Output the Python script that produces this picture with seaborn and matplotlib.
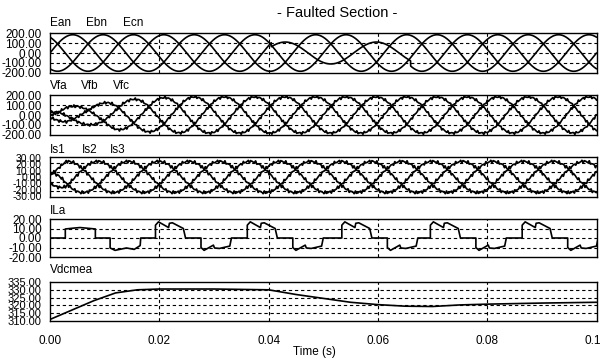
import numpy as np
import pandas as pd
import matplotlib
matplotlib.use("Agg")
import matplotlib.pyplot as plt
import seaborn as sns
from matplotlib import font_manager

sns.set_theme(style="white")
_avail = {f.name for f in font_manager.fontManager.ttflist}
_fam = "Liberation Sans Narrow" if "Liberation Sans Narrow" in _avail else "Liberation Sans"
plt.rcParams["font.family"] = [_fam, "DejaVu Sans"]

# ---------------- data ----------------
title_text = "- Faulted Section -"
x_label = "Time (s)"
x_ticks = [0.00, 0.02, 0.04, 0.06, 0.08, 0.10]
x_tick_labels = ["0.00", "0.02", "0.04", "0.06", "0.08", "0.10"]

freq_hz = 60.0
n_samples = 4001

# source voltages Ean, Ebn, Ecn
e_names = ["Ean", "Ebn", "Ecn"]
e_amp = [190.0, 190.0, 190.0]
e_phase_deg = [0.0, -120.0, 120.0]
fault_start, fault_end = 0.0405, 0.066
e_fault_scale = [1.0, 0.6, 1.0]

# load voltages Vfa, Vfb, Vfc (amplitude envelope at start-up)
vf_names = ["Vfa", "Vfb", "Vfc"]
vf_env_t = [0.0, 0.003, 0.008, 0.012, 0.018, 0.025, 0.1]
vf_env_amp = [30.0, 85.0, 105.0, 150.0, 175.0, 188.0, 188.0]
vf_phase_deg = [0.0, -120.0, 120.0]
vf_ripple_hz = [1380.0, 2220.0, 3060.0]
vf_ripple_amp = [7.0, 5.0, 3.0]

# source currents Is1, Is2, Is3
is_names = ["Is1", "Is2", "Is3"]
is_env_t = [0.0, 0.003, 0.1]
is_env_amp = [10.0, 25.0, 25.0]
is_phase_deg = [20.0, -100.0, 140.0]
is_ripple_hz = [1380.0, 2220.0, 3060.0]
is_ripple_amp = [1.2, 0.9, 0.6]

# load current ILa : start-up part (ms, A)
ila_startup_ms = [0.0, 2.8, 2.8, 4.5, 5.5, 8.3, 8.3, 11.0, 11.0, 11.9, 14.0, 15.4, 16.5, 16.6]
ila_startup_val = [0.0, 0.0, 9.5, 10.5, 11.0, 9.5, 0.0, 0.0, -10.5, -13.0, -10.5, -12.0, -8.0, 0.0]
# one steady cycle, relative to each positive pulse start (ms, A)
ila_cycle_ms = [0.0, 0.0, 0.55, 2.4, 2.55, 3.1, 5.1, 5.5,
                8.33, 8.33, 8.9, 10.6, 10.8, 11.7, 13.6, 13.9]
ila_cycle_val = [0.0, 13.5, 17.0, 11.0, 15.5, 16.0, 10.0, 0.0,
                 0.0, -10.0, -13.0, -7.5, -10.5, -11.0, -8.5, 0.0]
ila_pulse_start_s = [0.0193, 0.0361, 0.0534, 0.0696, 0.0864]

# DC link voltage Vdcmea
vdc_t = [0.0, 0.004, 0.008, 0.012, 0.016, 0.02, 0.03, 0.04, 0.045, 0.05,
         0.055, 0.06, 0.065, 0.07, 0.075, 0.08, 0.09, 0.1]
vdc_v = [311.0, 317.0, 323.0, 328.0, 330.0, 330.5, 330.5, 330.0, 327.0, 324.5,
         322.0, 320.5, 319.5, 319.3, 320.3, 320.8, 321.5, 322.0]

# axis settings per panel
p_ylim = [(-208, 208), (-208, 208), (-32, 32), (-17.5, 19), (310.5, 334)]
p_yticks = [[200, 100, 0, -100, -200], [200, 100, 0, -100, -200],
            [30, 20, 10, 0, -10, -20, -30], [20, 10, 0, -10, -20],
            [335, 330, 325, 320, 315, 310]]
p_yticklabels = [["200.00", "100.00", "0.00", "-100.00", "-200.00"],
                 ["200.00", "100.00", "0.00", "-100.00", "-200.00"],
                 ["30.00", "20.00", "10.00", "0.00", "-10.00", "-20.00", "-30.00"],
                 ["20.00", "10.00", "0.00", "-10.00", "-20.00"],
                 ["335.00", "330.00", "325.00", "320.00", "315.00", "310.00"]]
p_ytick_size = [8.5, 8.5, 7.5, 8.5, 8.0]
p_ygrid = [[100, 0, -100], [100, 0, -100], [22.5, 7.5, -7.5, -22.5],
           [10, 0, -10], [330, 325, 320, 315]]
x_grid = [0.02, 0.04, 0.06, 0.08]
p_labels = [e_names, vf_names, is_names, ["ILa"], ["Vdcmea"]]

# ---------------- build series ----------------
t = np.linspace(0.0, 0.1, n_samples)
w = 2 * np.pi * freq_hz
in_fault = (t >= fault_start) & (t < fault_end)

e_series = []
for a, ph, sc in zip(e_amp, e_phase_deg, e_fault_scale):
    y = a * np.sin(w * t + np.deg2rad(ph))
    y = np.where(in_fault, y * sc, y)
    e_series.append(y)

vf_env = np.interp(t, vf_env_t, vf_env_amp)
vf_series = []
for k, ph in enumerate(vf_phase_deg):
    y = vf_env * np.sin(w * t + np.deg2rad(ph))
    for j, (f, a) in enumerate(zip(vf_ripple_hz, vf_ripple_amp)):
        y = y + a * np.sin(2 * np.pi * f * t + 1.7 * (k + 1) * (j + 1))
    vf_series.append(y)

is_env = np.interp(t, is_env_t, is_env_amp)
is_series = []
for k, ph in enumerate(is_phase_deg):
    y = is_env * np.sin(w * t + np.deg2rad(ph))
    for j, (f, a) in enumerate(zip(is_ripple_hz, is_ripple_amp)):
        y = y + a * np.sin(2 * np.pi * f * t + 2.3 * (k + 1) * (j + 1))
    is_series.append(y)

ila_t = [m / 1000.0 for m in ila_startup_ms]
ila_v = list(ila_startup_val)
for s in ila_pulse_start_s:
    ila_t += [s + m / 1000.0 for m in ila_cycle_ms]
    ila_v += list(ila_cycle_val)

# ---------------- figure ----------------
fig = plt.figure(figsize=(6.0, 3.61), dpi=100)
W, H = 600.0, 361.0
boxes = [(33, 73), (95, 135), (157, 197), (219, 257), (282, 321)]
x0, x1 = 50.0, 596.5

axes = []
for top, bot in boxes:
    ax = fig.add_axes([x0 / W, 1 - bot / H, (x1 - x0) / W, (bot - top) / H])
    axes.append(ax)

lw = 1.2
for y in e_series:
    sns.lineplot(x=t, y=y, ax=axes[0], color="black", lw=lw, estimator=None)
for y in vf_series:
    sns.lineplot(x=t, y=y, ax=axes[1], color="black", lw=lw, estimator=None)
for y in is_series:
    sns.lineplot(x=t, y=y, ax=axes[2], color="black", lw=lw, estimator=None)
sns.lineplot(x=ila_t, y=ila_v, ax=axes[3], color="black", lw=lw, estimator=None, sort=False)
sns.lineplot(x=vdc_t, y=vdc_v, ax=axes[4], color="black", lw=lw, estimator=None)

dash = (0, (3, 2.5))
for i, ax in enumerate(axes):
    ax.set_xlim(0, 0.1)
    ax.set_ylim(*p_ylim[i])
    ax.set_yticks(p_yticks[i])
    ax.set_yticklabels(p_yticklabels[i])
    ax.set_xticks(x_ticks)
    for g in p_ygrid[i]:
        ax.axhline(g, color="black", lw=0.8, ls=dash, zorder=0)
    for g in x_grid:
        ax.axvline(g, color="black", lw=0.8, ls=dash, zorder=0)
    ax.grid(False)
    for sp in ax.spines.values():
        sp.set_color("black")
        sp.set_linewidth(1.0)
    ax.tick_params(axis="y", length=0, pad=6, labelsize=p_ytick_size[i], colors="black")
    ax.tick_params(axis="x", length=0, pad=10, labelsize=8.5, colors="black")
    ax.set_xlabel("")
    ax.set_ylabel("")
    if i < 4:
        ax.set_xticklabels([])
    else:
        ax.set_xticklabels(x_tick_labels)
    ax.set_facecolor("white")

label_rows = [(22.5, [50, 86, 123]), (86, [50, 81, 113]), (150, [50, 82, 110]),
              (211, [50]), (270, [50])]
for (yc, xs), names in zip(label_rows, p_labels):
    for xx, nm in zip(xs, names):
        fig.text(xx / W, 1 - yc / H, nm, ha="left", va="center", fontsize=8.5, color="black")

fig.text(337.5 / W, 1 - 13 / H, title_text, ha="center", va="center", fontsize=10.5, color="black")
fig.text(314 / W, 1 - 352 / H, x_label, ha="center", va="center", fontsize=8.5, color="black")

fig.savefig("out.png", dpi=100, facecolor="white")
